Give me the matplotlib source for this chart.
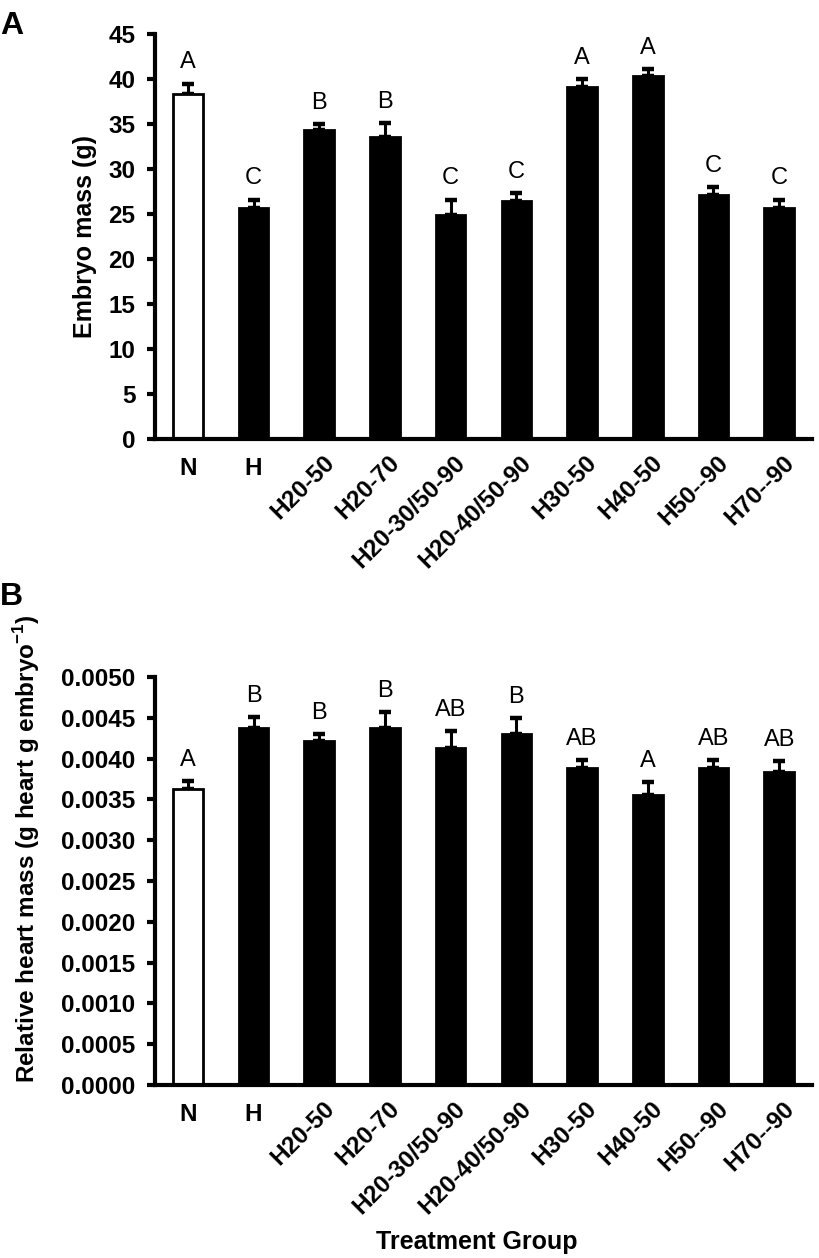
import matplotlib
matplotlib.use("Agg")
import matplotlib.pyplot as plt
from matplotlib.transforms import ScaledTranslation
from matplotlib.ticker import FormatStrFormatter, MultipleLocator

plt.rcParams['font.family'] = ['Liberation Sans', 'DejaVu Sans']
plt.rcParams['mathtext.fontset'] = 'custom'
plt.rcParams['mathtext.rm'] = 'Liberation Sans:bold'
plt.rcParams['mathtext.bf'] = 'Liberation Sans:bold'

# ---- data ----
groups = ["N", "H", "H20-50", "H20-70", "H20-30/50-90", "H20-40/50-90",
          "H30-50", "H40-50", "H50--90", "H70--90"]
embryo_mass = [38.3, 25.7, 34.3, 33.6, 24.9, 26.4, 39.1, 40.3, 27.1, 25.7]
embryo_err = [1.2, 0.9, 0.7, 1.5, 1.7, 0.9, 0.9, 0.8, 0.9, 0.9]
embryo_letters = ["A", "C", "B", "B", "C", "C", "A", "A", "C", "C"]

heart_mass = [0.00363, 0.00438, 0.00421, 0.00437, 0.00413, 0.00430,
              0.00389, 0.00355, 0.00388, 0.00384]
heart_err = [0.00009, 0.00013, 0.00009, 0.00020, 0.00021, 0.00020,
             0.00009, 0.00016, 0.00010, 0.00013]
heart_letters = ["A", "B", "B", "B", "AB", "B", "AB", "A", "AB", "AB"]

bar_colors = ["white"] + ["black"] * 9

W, H = 819, 1258
fig = plt.figure(figsize=(W / 100, H / 100), dpi=100)

def px_axes(left, right, top, bottom):
    return fig.add_axes([left / W, 1 - bottom / H, (right - left) / W, (bottom - top) / H])

axA = px_axes(155, 812, 34, 439)
axB = px_axes(155, 812, 677, 1085)

SP = 3.0
TICK_FS = 17.5
LET_FS = 17

def draw_panel(ax, vals, errs, letters, ymax, step, fmt, letter_off):
    x = list(range(len(groups)))
    ax.bar(x, vals, width=0.45, color=bar_colors, edgecolor="black",
           linewidth=2.0, zorder=2)
    ax.errorbar(x, vals, yerr=[[0] * len(errs), errs], fmt="none",
                ecolor="black", elinewidth=2.2, capsize=4.5, capthick=3.2,
                zorder=1)
    for xi, v, e, t in zip(x, vals, errs, letters):
        ax.annotate(t, (xi, v + e), xytext=(0, letter_off),
                    textcoords="offset points", ha="center", va="baseline",
                    fontsize=LET_FS)
    ax.set_xlim(-0.5, len(groups) - 0.5)
    ax.set_ylim(0, ymax)
    ax.yaxis.set_major_locator(MultipleLocator(step))
    ax.yaxis.set_major_formatter(FormatStrFormatter(fmt))
    for s in ["top", "right"]:
        ax.spines[s].set_visible(False)
    for s in ["left", "bottom"]:
        ax.spines[s].set_linewidth(SP)
    ax.tick_params(axis="y", direction="out", length=6, width=SP, pad=8,
                   labelsize=TICK_FS)
    for lbl in ax.get_yticklabels():
        lbl.set_fontweight("bold")
    ax.set_xticks(x)
    ax.set_xticklabels(groups, fontsize=TICK_FS, fontweight="bold")
    ax.tick_params(axis="x", length=0, pad=13)
    for lbl, g in zip(ax.get_xticklabels(), groups):
        if len(g) > 1:
            lbl.set_rotation(45)
            lbl.set_rotation_mode("anchor")
            lbl.set_ha("right")
            lbl.set_va("baseline")
            lbl.set_transform(lbl.get_transform() +
                              ScaledTranslation(0.16, -0.07, fig.dpi_scale_trans))
        else:
            lbl.set_ha("center")
            lbl.set_va("top")

draw_panel(axA, embryo_mass, embryo_err, embryo_letters, 45, 5, "%d", 11)
draw_panel(axB, heart_mass, heart_err, heart_letters, 0.005, 0.0005, "%.4f", 11)

axA.set_ylabel("Embryo mass (g)", fontsize=18, fontweight="bold")
axA.yaxis.set_label_coords(-0.088, 0.5)
axB.set_ylabel(r"Relative heart mass (g heart g embryo$^{-1}$)",
               fontsize=17.5, fontweight="bold")
axB.yaxis.set_label_coords(-0.172, 0.58)
axB.set_xlabel("Treatment Group", fontsize=18, fontweight="bold")
axB.xaxis.set_label_coords(0.49, -0.355)

fig.text(0 / W, 1 - 26 / H, "A", fontsize=23, fontweight="bold", ha="left", va="center")
fig.text(0 / W, 1 - 597 / H, "B", fontsize=23, fontweight="bold", ha="left", va="center")

fig.savefig("out.png", dpi=100)
